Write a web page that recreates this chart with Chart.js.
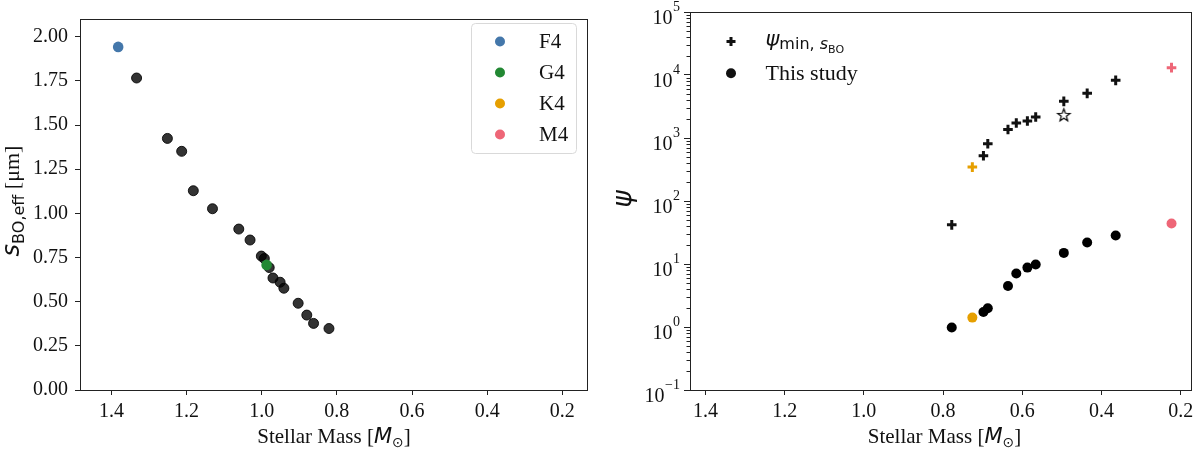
<!DOCTYPE html>
<html>
<head>
<meta charset="utf-8">
<script src="https://cdn.jsdelivr.net/npm/chart.js@4.4.0/dist/chart.umd.min.js"></script>
<style>
  html, body { margin: 0; padding: 0; background: #fff; }
  #wrap { position: relative; width: 1200px; height: 450px; }
  .panel { position: absolute; top: 0; width: 600px; height: 450px; }
</style>
</head>
<body>
<div id="wrap">
  <div class="panel" style="left:0"><canvas id="sizeChart" width="600" height="450"></canvas></div>
  <div class="panel" style="left:600px"><canvas id="psiChart" width="600" height="450"></canvas></div>
</div>
<script>
// ---- data ----
const massTicks = [1.4, 1.2, 1.0, 0.8, 0.6, 0.4, 0.2];
const sizeTicks = [0, 0.25, 0.5, 0.75, 1.0, 1.25, 1.5, 1.75, 2.0];
const psiTicks = [1e-1, 1e0, 1e1, 1e2, 1e3, 1e4, 1e5];

// left panel: effective blow-out size vs stellar mass
const stellarMass = [1.333, 1.251, 1.213, 1.182, 1.131, 1.061, 1.031, 1.001, 0.993, 0.980,
                     0.970, 0.951, 0.941, 0.903, 0.880, 0.862, 0.821];
const blowoutSize = [1.766, 1.424, 1.351, 1.128, 1.026, 0.911, 0.849, 0.758, 0.744, 0.693,
                     0.634, 0.610, 0.576, 0.491, 0.424, 0.377, 0.348];
const f4Mass = [1.382], f4Size = [1.942];
const g4Mass = [0.987], g4Size = [0.708];

// right panel: psi vs stellar mass
const sampleMass = [0.778, 0.726, 0.698, 0.687, 0.636, 0.615, 0.587, 0.566, 0.495, 0.436, 0.364, 0.223];
const sampleType = [null, 'K4', null, null, null, null, null, null, null, null, null, 'M4'];
const psiMinSBO  = [41.8, 345, 522, 811, 1368, 1727, 1858, 2150, 3816, 5115, 8224, 13090];
const psiThisStudy = [0.98, 1.41, 1.73, 1.98, 4.48, 7.05, 8.77, 9.79, 15.0, 21.9, 28.3, 43.9];
const starMass = [0.495], starPsi = [2286];

const legendTypes = ['F4', 'G4', 'K4', 'M4'];
const typeColors = { F4: '#4477AA', G4: '#228833', K4: '#E69F00', M4: '#EE6677' };

const SERIF = "'Liberation Serif', 'Times New Roman', serif";
const SANS = "'DejaVu Sans', sans-serif";
const AXIS = '#222';

const pts = (xs, ys) => xs.map((x, i) => ({ x: x, y: ys[i] }));

// draws a row of text pieces (mixed fonts / subscripts) centred on x
function drawRuns(ctx, runs, x, y, align) {
  let total = 0;
  runs.forEach(r => { ctx.font = r.font; r.w = ctx.measureText(r.text).width; total += r.w; });
  let cx = align === 'left' ? x : x - total / 2;
  ctx.textAlign = 'left';
  ctx.textBaseline = 'alphabetic';
  runs.forEach(r => {
    ctx.font = r.font;
    ctx.fillText(r.text, cx, y + (r.dy || 0));
    cx += r.w;
  });
}

function xTitleRuns() {
  return [
    { text: 'Stellar Mass [', font: '21px ' + SERIF },
    { text: 'M', font: 'italic 21px ' + SANS },
    { text: '\u2299', font: '14px ' + SANS, dy: 4 },
    { text: ']', font: '21px ' + SERIF }
  ];
}

const framePlugin = {
  id: 'frame',
  afterDraw(chart) {
    const a = chart.chartArea, c = chart.ctx;
    c.save();
    c.strokeStyle = AXIS;
    c.lineWidth = 1;
    c.strokeRect(Math.round(a.left) + 0.5, Math.round(a.top) + 0.5,
                 Math.round(a.right - a.left) - 1, Math.round(a.bottom - a.top));
    c.restore();
  }
};

function makeStar(r) {
  const c = document.createElement('canvas');
  const s = Math.ceil(r * 2 + 4);
  c.width = c.height = s;
  const g = c.getContext('2d');
  g.beginPath();
  for (let i = 0; i < 10; i++) {
    const ang = -Math.PI / 2 + i * Math.PI / 5;
    const rr = i % 2 ? r * 0.42 : r;
    g.lineTo(s / 2 + rr * Math.cos(ang), s / 2 + rr * Math.sin(ang));
  }
  g.closePath();
  g.fillStyle = '#fff';
  g.fill();
  g.strokeStyle = '#000';
  g.lineWidth = 1.2;
  g.stroke();
  return c;
}

function baseScales(xMin, xMax) {
  return {
    x: {
      type: 'linear', reverse: true, min: xMin, max: xMax,
      afterBuildTicks: s => { s.ticks = massTicks.map(v => ({ value: v })); },
      afterFit: s => { s.height = 60; },
      grid: { drawOnChartArea: false, tickLength: 5, tickColor: AXIS, tickWidth: 1 },
      border: { display: false },
      ticks: { font: { family: SERIF, size: 20 }, color: '#111', padding: 5,
               maxRotation: 0, autoSkip: false, callback: v => v.toFixed(1) }
    }
  };
}

// ---- left chart ----
const sizeScales = baseScales(0.1316, 1.4836);
sizeScales.y = {
  type: 'linear', min: 0, max: 2.1,
  afterBuildTicks: s => { s.ticks = sizeTicks.map(v => ({ value: v })); },
  afterFit: s => { s.width = 80; },
  grid: { drawOnChartArea: false, tickLength: 5, tickColor: AXIS, tickWidth: 1 },
  border: { display: false },
  ticks: { font: { family: SERIF, size: 20 }, color: '#111', padding: 7,
           autoSkip: false, callback: v => v.toFixed(2) }
};

const sizeLabels = {
  id: 'sizeLabels',
  afterDraw(chart) {
    const c = chart.ctx;
    c.save();
    c.fillStyle = '#111';
    drawRuns(c, xTitleRuns(), 334, 443);
    c.translate(19, 201);
    c.rotate(-Math.PI / 2);
    drawRuns(c, [
      { text: 's', font: 'italic 24px ' + SANS },
      { text: 'BO,eff', font: '16px ' + SANS, dy: 5 },
      { text: ' [\u03bcm]', font: '22px ' + SERIF }
    ], 0, 0);
    c.restore();

    // legend box
    c.save();
    c.beginPath();
    c.roundRect(471.5, 23.5, 105, 130, 4);
    c.fillStyle = 'rgba(255,255,255,0.85)';
    c.fill();
    c.strokeStyle = '#d9d9d9';
    c.lineWidth = 1;
    c.stroke();
    legendTypes.forEach((t, i) => {
      const y = 41.5 + i * 31;
      c.beginPath();
      c.arc(500, y, 5, 0, Math.PI * 2);
      c.fillStyle = typeColors[t];
      c.fill();
      c.fillStyle = '#111';
      c.font = '21px ' + SERIF;
      c.textAlign = 'left';
      c.textBaseline = 'middle';
      c.fillText(t, 539, y + 1);
    });
    c.restore();
  }
};

new Chart(document.getElementById('sizeChart').getContext('2d'), {
  type: 'scatter',
  data: {
    datasets: [
      { label: 'F4', data: pts(f4Mass, f4Size), backgroundColor: typeColors.F4,
        borderWidth: 0, pointRadius: 5.3 },
      { label: 'G4', data: pts(g4Mass, g4Size), backgroundColor: typeColors.G4,
        borderWidth: 0, pointRadius: 5.3 },
      { label: 'stars', data: pts(stellarMass, blowoutSize), backgroundColor: 'rgba(0,0,0,0.8)',
        borderColor: 'rgba(0,0,0,0.85)', borderWidth: 1, pointRadius: 5 }
    ]
  },
  options: {
    responsive: false, animation: false, devicePixelRatio: 1,
    layout: { padding: { top: 13, right: 12, left: 0, bottom: 0 } },
    plugins: { legend: { display: false }, tooltip: { enabled: false } },
    scales: sizeScales
  },
  plugins: [framePlugin, sizeLabels]
});

// ---- right chart ----
const psiScales = baseScales(0.1708, 1.439);
psiScales.y = {
  type: 'logarithmic', min: 0.1, max: 1e5,
  afterBuildTicks: s => { s.ticks = psiTicks.map(v => ({ value: v, major: true })); },
  afterFit: s => { s.width = 90; },
  grid: { drawOnChartArea: false, tickLength: 6, tickColor: AXIS, tickWidth: 1 },
  border: { display: false },
  ticks: { autoSkip: false, callback: () => '' }
};

const supDigits = n => String(n).replace('-', '\u2212');

const psiLabels = {
  id: 'psiLabels',
  afterDraw(chart) {
    const c = chart.ctx, ys = chart.scales.y, left = chart.chartArea.left;
    c.save();
    c.strokeStyle = AXIS;
    c.lineWidth = 1;
    // minor ticks
    for (let n = -1; n < 5; n++) {
      for (let k = 2; k < 10; k++) {
        const py = Math.round(ys.getPixelForValue(k * Math.pow(10, n))) + 0.5;
        c.beginPath();
        c.moveTo(left - 3.5, py);
        c.lineTo(left, py);
        c.stroke();
      }
    }
    // major labels 10^n
    c.fillStyle = '#111';
    c.textBaseline = 'alphabetic';
    psiTicks.forEach(v => {
      const py = ys.getPixelForValue(v);
      const e = supDigits(Math.round(Math.log10(v)));
      c.font = '14px ' + SERIF;
      const ew = c.measureText(e).width;
      c.textAlign = 'right';
      c.fillText(e, 80, py - 1);
      c.font = '20px ' + SERIF;
      c.fillText('10', 80 - ew - 0.5, py + 11.5);
    });
    // axis titles
    drawRuns(c, xTitleRuns(), 344.5, 443);
    c.save();
    c.translate(31, 199);
    c.rotate(-Math.PI / 2);
    drawRuns(c, [{ text: '\u03c8', font: 'italic 26px ' + SANS }], 0, 0);
    c.restore();

    // legend
    c.fillStyle = '#111';
    c.fillRect(131 - 4.5, 41.5 - 1.5, 9, 3);
    c.fillRect(131 - 1.5, 41.5 - 4.5, 3, 9);
    c.beginPath();
    c.arc(131, 73.3, 5, 0, Math.PI * 2);
    c.fill();
    drawRuns(c, [
      { text: '\u03c8', font: 'italic 21px ' + SANS },
      { text: 'min, ', font: '16px ' + SANS, dy: 3 },
      { text: 's', font: 'italic 16px ' + SANS, dy: 3 },
      { text: 'BO', font: '11px ' + SANS, dy: 7 }
    ], 165.5, 46, 'left');
    drawRuns(c, [{ text: 'This study', font: '22px ' + SERIF }], 165.5, 80, 'left');
    c.restore();
  }
};

const colorOf = (i, fallback) => sampleType[i] ? typeColors[sampleType[i]] : fallback;

new Chart(document.getElementById('psiChart').getContext('2d'), {
  type: 'scatter',
  data: {
    datasets: [
      { label: 'psi_min', data: pts(sampleMass, psiMinSBO), pointStyle: 'cross',
        pointRadius: 4.8, borderWidth: 3,
        borderColor: ctx => colorOf(ctx.dataIndex, '#111'),
        backgroundColor: ctx => colorOf(ctx.dataIndex, '#111') },
      { label: 'star', data: pts(starMass, starPsi), pointStyle: makeStar(6.5), pointRadius: 6.5 },
      { label: 'This study', data: pts(sampleMass, psiThisStudy), pointStyle: 'circle',
        pointRadius: 5, borderWidth: 0,
        backgroundColor: ctx => colorOf(ctx.dataIndex, '#000') }
    ]
  },
  options: {
    responsive: false, animation: false, devicePixelRatio: 1,
    layout: { padding: { top: 12, right: 1, left: 0, bottom: 0 } },
    plugins: { legend: { display: false }, tooltip: { enabled: false } },
    scales: psiScales
  },
  plugins: [framePlugin, psiLabels]
});
</script>
</body>
</html>
